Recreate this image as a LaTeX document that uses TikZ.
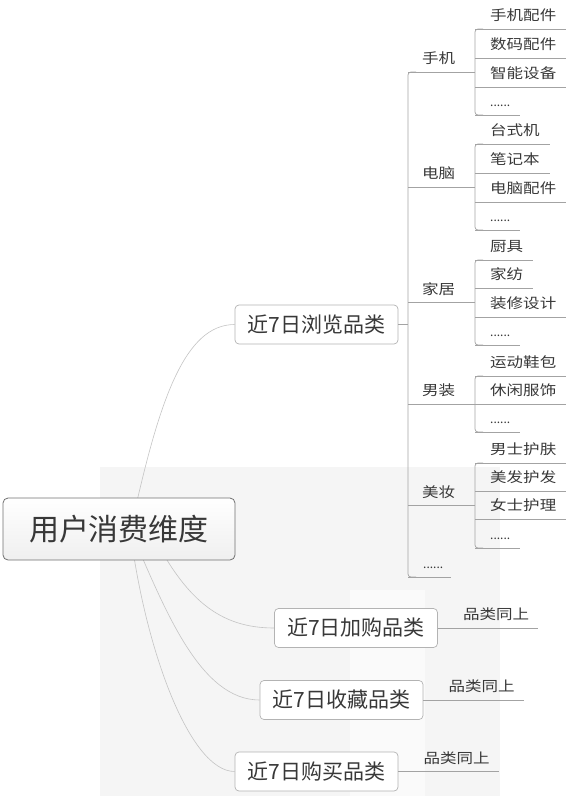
\documentclass[tikz,border=0pt]{standalone}
\usepackage{fontspec}
\newfontfamily\cjk{Noto Sans CJK SC}
\newfontfamily\cjkw[FakeStretch=1.18]{Noto Sans CJK SC}
\definecolor{txt}{HTML}{383838}
\definecolor{ln}{HTML}{A3A3A3}
\definecolor{cv}{HTML}{C4C4C4}
\definecolor{wm}{HTML}{F5F5F5}
\definecolor{wml}{HTML}{FAFAFA}
\definecolor{rootln}{HTML}{707070}
\definecolor{rootbot}{HTML}{EFEFEF}
\definecolor{catln}{HTML}{B3B3B3}
\begin{document}
\begin{tikzpicture}[x=1pt,y=-1pt,
  rootbox/.style={draw=rootln, line width=0.8pt, rounded corners=5pt, top color=white, bottom color=rootbot,
    minimum width=232pt, minimum height=62pt, inner sep=0pt, font=\cjk\fontsize{30}{30}\selectfont, text=txt},
  catbox/.style={draw=catln, line width=0.7pt, rounded corners=4pt, fill=white,
    minimum width=163pt, minimum height=39pt, inner sep=0pt, font=\cjk\fontsize{21}{21}\selectfont, text=txt},
  itembase/.style={anchor=south west, inner sep=0pt, text height=12pt, text depth=8pt,
    font=\cjkw\fontsize{14}{14}\selectfont, text=txt},
  pads/.style 2 args={execute at begin node={\hspace*{#1}}, execute at end node={\hspace*{#2}}},
  item/.style={itembase, pads={15pt}{10pt}},
  dotitem/.style={itembase, font=\cjk\fontsize{12}{12}\selectfont, pads={15pt}{10pt}},
  sub/.style={itembase, pads={14pt}{8pt}},
  subdots/.style={itembase, font=\cjk\fontsize{12}{12}\selectfont, pads={15pt}{8pt}},
  lab/.style={itembase, pads={25pt}{9pt}},
  uline/.style={draw=ln, line width=0.7pt},
  bracket/.style={draw=ln, line width=0.7pt, rounded corners=3pt},
  curve/.style={draw=cv, line width=0.6pt},
]
\useasboundingbox (0,0) rectangle (571,796);
% faint watermark
\fill[wm] (100,467) rectangle (500,796);
\fill[wml] (350,590) rectangle (425,796);

% start points of the curves (inside the root box)
\coordinate (s1) at (135,510);
\coordinate (s2) at (130,529);
\coordinate (s3) at (150,529);

% level-1 boxes
\node[catbox] (browse) at (316.5,324.5) {近7日浏览品类};
\node[catbox] (add) at (356,628) {近7日加购品类};
\node[catbox] (fav) at (341.5,700) {近7日收藏品类};
\node[catbox] (buy) at (316.5,771.5) {近7日购买品类};

% curves
\draw[curve] (s1) .. controls (160,400) and (185,324.5) .. (browse.west);
\draw[curve] (s3) .. controls (185,600) and (220,628) .. (add.west);
\draw[curve] (s2) .. controls (165,610) and (200,700) .. (fav.west);
\draw[curve] (s2) .. controls (145,650) and (190,771.5) .. (buy.west);

% root
\node[rootbox] (root) at (119,529) {用户消费维度};

% level-3 items
\node[item] (a1) at (475,29) {手机配件};
\node[item] (a2) at (475,58) {数码配件};
\node[item] (a3) at (475,87) {智能设备};
\node[dotitem] (a4) at (475,115) {......};
\node[item] (b1) at (475,144) {台式机};
\node[item] (b2) at (475,173) {笔记本};
\node[item] (b3) at (475,202) {电脑配件};
\node[dotitem] (b4) at (475,230) {......};
\node[item] (c1) at (475,260) {厨具};
\node[item] (c2) at (475,288) {家纺};
\node[item] (c3) at (475,317) {装修设计};
\node[dotitem] (c4) at (475,345) {......};
\node[item] (d1) at (475,376) {运动鞋包};
\node[item] (d2) at (475,404) {休闲服饰};
\node[dotitem] (d3) at (475,432) {......};
\node[item] (e1) at (475,463) {男士护肤};
\node[item] (e2) at (475,491) {美发护发};
\node[item] (e3) at (475,519) {女士护理};
\node[dotitem] (e4) at (475,548) {......};

\foreach \n in {a1,a2,a3,a4,b1,b2,b3,b4,c1,c2,c3,c4,d1,d2,d3,e1,e2,e3,e4}
  \draw[uline] (\n.south west) -- (\n.south east);

% level-2 items
\node[sub] (p) at (408,72) {手机};
\node[sub] (q) at (408,187) {电脑};
\node[sub] (r) at (408,302.5) {家居};
\node[sub] (s) at (408,404) {男装};
\node[sub] (t) at (408,505.5) {美妆};
\node[subdots] (u) at (408,577) {......};

\draw[uline] (p.south west) -- (a1.south west |- p.south);
\draw[uline] (q.south west) -- (b1.south west |- q.south);
\draw[uline] (r.south west) -- (c1.south west |- r.south);
\draw[uline] (s.south west) -- (d1.south west |- s.south);
\draw[uline] (t.south west) -- (e1.south west |- t.south);
\draw[uline] (u.south west) -- (u.south east);

% brackets of level 3
\draw[bracket] ([xshift=8pt]a1.south west) -- (a1.south west) -- (a4.south west) -- ([xshift=8pt]a4.south west);
\draw[bracket] ([xshift=8pt]b1.south west) -- (b1.south west) -- (b4.south west) -- ([xshift=8pt]b4.south west);
\draw[bracket] ([xshift=8pt]c1.south west) -- (c1.south west) -- (c4.south west) -- ([xshift=8pt]c4.south west);
\draw[bracket] ([xshift=8pt]d1.south west) -- (d1.south west) -- (d3.south west) -- ([xshift=8pt]d3.south west);
\draw[bracket] ([xshift=8pt]e1.south west) -- (e1.south west) -- (e4.south west) -- ([xshift=8pt]e4.south west);

% bracket of level 2
\draw[bracket] ([xshift=8pt]p.south west) -- (p.south west) -- (u.south west) -- ([xshift=8pt]u.south west);
\draw[uline] (browse.east) -- (p.south west |- browse.east);

% labels of the other categories
\node[lab] (l1) at (add.east) {品类同上};
\node[lab] (l2) at (fav.east) {品类同上};
\node[lab] (l3) at (buy.east) {品类同上};
\draw[uline] (l1.south west) -- (l1.south east);
\draw[uline] (l2.south west) -- (l2.south east);
\draw[uline] (l3.south west) -- (l3.south east);
\end{tikzpicture}
\end{document}
